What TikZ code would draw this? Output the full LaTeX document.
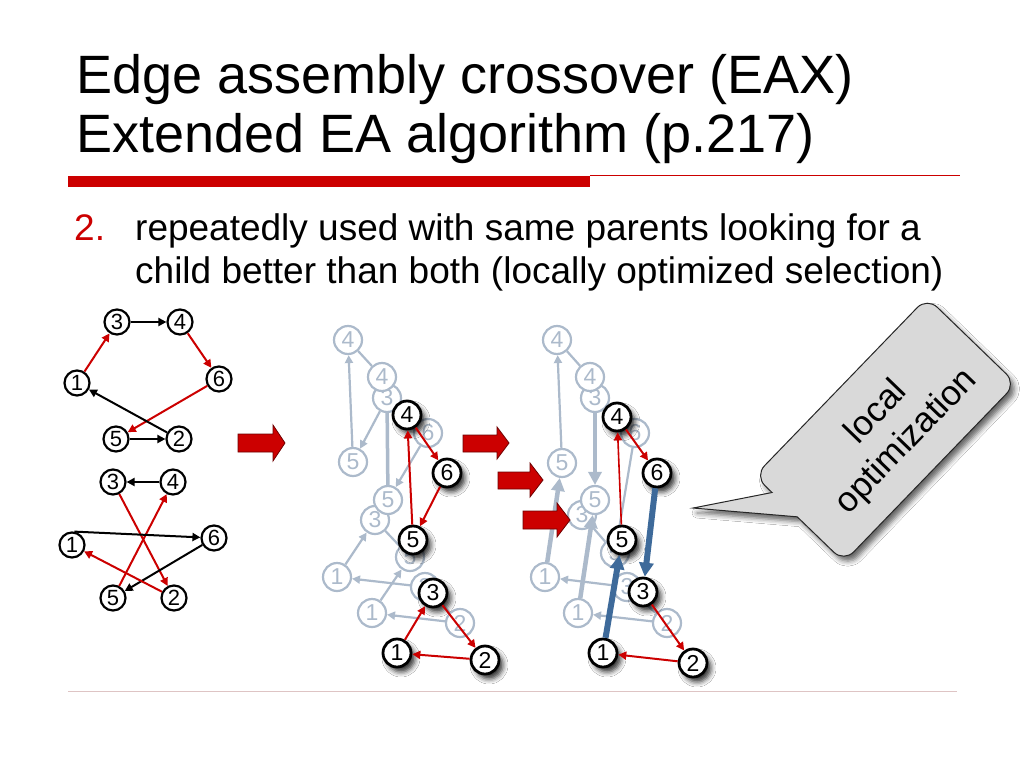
\documentclass[tikz,border=0pt]{standalone}
\usepackage{fontspec}
\setmainfont{Liberation Sans}
\usetikzlibrary{arrows.meta,shadows.blur}
\definecolor{pred}{RGB}{204,0,0}
\definecolor{dred}{RGB}{110,0,0}
\definecolor{fade}{RGB}{172,186,203}
\definecolor{eblue}{RGB}{62,106,154}
\definecolor{bubble}{RGB}{217,217,217}
\definecolor{rule}{RGB}{222,196,196}
\begin{document}
\begin{tikzpicture}[x=1pt,y=-1pt,
 ln/.style={circle,draw=black,line width=2.2,fill=white,minimum size=25,inner sep=0,font=\fontsize{22}{22}\selectfont},
 bn/.style={circle,draw=black,line width=2.8,fill=white,minimum size=28,inner sep=0,font=\fontsize{23}{23}\selectfont,
   blur shadow={shadow xshift=4pt,shadow yshift=-5pt,shadow blur radius=5pt,shadow opacity=80}},
 fn/.style={circle,draw=fade,text=fade,line width=2.2,fill=white,minimum size=28,inner sep=0,font=\fontsize{23}{23}\selectfont},
 re/.style={draw=pred,line width=2,-{Triangle[length=8,width=8]}},
 ke/.style={draw=black,line width=2,-{Triangle[length=8,width=8]}},
 fe/.style={draw=fade,line width=2.2,-{Triangle[length=8,width=8]}},
 fl/.style={draw=fade,line width=2.2},
 ft/.style={draw=fade,line width=4.5,-{Triangle[length=13,width=13]}},
 be/.style={draw=eblue,line width=6,-{Triangle[length=14,width=14]}},
 blk/.style={fill=pred,draw=dred,line width=0.8},
 ttl/.style={anchor=base west,inner sep=0,font=\fontsize{54}{65}\selectfont},
 body/.style={anchor=base west,inner sep=0,font=\fontsize{37}{44}\selectfont}
]
\fill[white] (0,0) rectangle (1024,768);
\useasboundingbox (0,0) rectangle (1024,768);

% title and rules
\node[ttl] (t1) at (76,93) {Edge assembly crossover (EAX)};
\node[ttl] (t2) at (76,152) {Extended EA algorithm (p.217)};
\fill[pred] (68,176) rectangle (590,187);
\draw[pred,line width=1] (590,175.5) -- (960,175.5);
\draw[rule,line width=1] (68,691) -- (957,691);

% bullet text
\node[body,text=pred] (num) at (74,240) {2.};
\node[body] (b1) at (135,240) {repeatedly used with same parents looking for a};
\node[body] (b2) at (135,283) {child better than both (locally optimized selection)};

% parent 1
\node[ln] (a3) at (117,322) {3};
\node[ln] (a4) at (180,322) {4};
\node[ln] (a1) at (77,383) {1};
\node[ln] (a6) at (219,379) {6};
\node[ln] (a5) at (116,439) {5};
\node[ln] (a2) at (179,439) {2};
\draw[ke] (a3) -- (a4);
\draw[re] (a1) -- (a3);
\draw[re] (a4) -- (a6);
\draw[re] (a6) -- (a5);
\draw[ke] (a2) -- (a1);
\draw[ke] (a5) -- (a2);

% parent 2
\node[ln] (p3) at (113,482) {3};
\node[ln] (p4) at (173,482) {4};
\node[ln] (p1) at (72,545) {1};
\node[ln] (p6) at (214,538) {6};
\node[ln] (p5) at (113,598) {5};
\node[ln] (p2) at (174,598) {2};
\draw[ke] (p4) -- (p3);
\draw[re] (p3) -- (p2);
\draw[re] (p5) -- (p4);
\draw[ke] (p1.80) -- (p6);
\draw[ke] (p6) -- (p5);
\draw[re] (p2) -- (p1);

% block arrows
\path[blk] (238,434) -- (273,434) -- (273,425) -- (285,443) -- (273,461) -- (273,452) -- (238,452) -- cycle;
\path[blk] (463,435) -- (497,435) -- (497,427) -- (509,443) -- (497,459) -- (497,452) -- (463,452) -- cycle;
\path[blk] (498,472) -- (530,472) -- (530,463) -- (543,480) -- (530,497) -- (530,489) -- (498,489) -- cycle;

% middle: faded tours
\node[fn] (mh3) at (387,398) {3};
\node[fn] (ma4) at (348,340) {4};
\node[fn] (mb4) at (382,377) {4};
\node[fn] (mh6) at (428,433) {6};
\node[fn] (ma5) at (353,462) {5};
\node[fn] (mc3) at (375,520) {3};
\node[fn] (mb5) at (388,500) {5};
\node[fn] (mh5) at (410,557) {5};
\node[fn] (ma1) at (337,577) {1};
\node[fn] (mh3b) at (425,587) {3};
\node[fn] (mb1) at (372,613) {1};
\node[fn] (mb2) at (460,623) {2};
\draw[fe] (ma5) -- (ma4);
\draw[fl] (ma4) -- (mb4);
\draw[fe] (mh3) -- (ma5);
\draw[fade,line width=3.5] (mh3) -- (mb5);
\draw[fe] (mh6) -- (mb5);
\draw[fe] (ma1) -- (mc3);
\draw[fl] (mc3) -- (mh5);
\draw[fe] (mh3b) -- (ma1);
\draw[fe] (mb1) -- (mh5);
\draw[fe] (mb2) -- (mb1);
\draw[fl] (mh3b) -- (mb2);

% middle: child
\node[bn] (m4) at (407,415) {4};
\node[bn] (m6) at (447,473) {6};
\node[bn] (m5) at (413,540) {5};
\node[bn] (m3) at (433,593) {3};
\node[bn] (m1) at (397,653) {1};
\node[bn] (m2) at (485,660) {2};
\draw[re] (m5) -- (m4);
\draw[re] (m4) -- (m6);
\draw[re] (m6) -- (m5);
\draw[re] (m1) -- (m3);
\draw[re] (m3) -- (m2);
\draw[re] (m2) -- (m1);

% right: faded tours
\node[fn] (rh3) at (595,398) {3};
\node[fn] (ra4) at (557,340) {4};
\node[fn] (rb4) at (590,377) {4};
\node[fn] (rh6) at (635,433) {6};
\node[fn] (ra5) at (562,463) {5};
\node[fn] (rc3) at (582,515) {3};
\node[fn] (rb5) at (595,500) {5};
\node[fn] (rh5) at (615,553) {5};
\node[fn] (ra1) at (545,577) {1};
\node[fn] (rh3b) at (627,587) {3};
\node[fn] (rb1) at (578,613) {1};
\node[fn] (rb2) at (667,623) {2};
\draw[fe] (ra5) -- (ra4);
\draw[fl] (ra4) -- (rb4);
\draw[ft] (ra1) -- (ra5);
\draw[ft] (rb1) -- (rb5);
\draw[ft] (rh3) -- (rb5);
\draw[fe] (rh6) -- (rh5);
\draw[fe] (rh3b) -- (ra1);
\draw[fe] (rb2) -- (rb1);
\draw[fl] (rc3) -- (rh5);
\draw[fl] (rh3b) -- (rb2);

% third block arrow lies over the faded 3
\path[blk] (523,511) -- (557,511) -- (557,503) -- (570,520) -- (557,537) -- (557,529) -- (523,529) -- cycle;

% right: child after local optimization
\node[bn] (r4) at (617,417) {4};
\node[bn] (r6) at (657,473) {6};
\node[bn] (r5) at (622,540) {5};
\node[bn] (r3) at (643,592) {3};
\node[bn] (r1) at (603,653) {1};
\node[bn] (r2) at (693,663) {2};
\draw[re,line width=1.6] (r5) -- (r4);
\draw[re] (r4) -- (r6);
\draw[be] (r6) -- (r3);
\draw[be] (r1) -- (r5);
\draw[re] (r3) -- (r2);
\draw[re] (r2) -- (r1);

% speech bubble
\begin{scope}[shift={(885.5,429.7)},rotate=46]
\path[fill=bubble,draw=black!85,line width=1,
  blur shadow={shadow xshift=4pt,shadow yshift=-5pt,shadow blur radius=5pt,shadow opacity=60}]
  (-190,-84) -- (-124,-3) [rounded corners=14] -- (-124,62) -- (124,62) -- (124,-62) -- (-124,-62) [sharp corners] -- (-124,-38) -- cycle;
\node[rotate=46,inner sep=0,font=\fontsize{35}{42}\selectfont,align=center] (bt) at (6,3) {local\\optimization};
\end{scope}
\end{tikzpicture}
\end{document}
